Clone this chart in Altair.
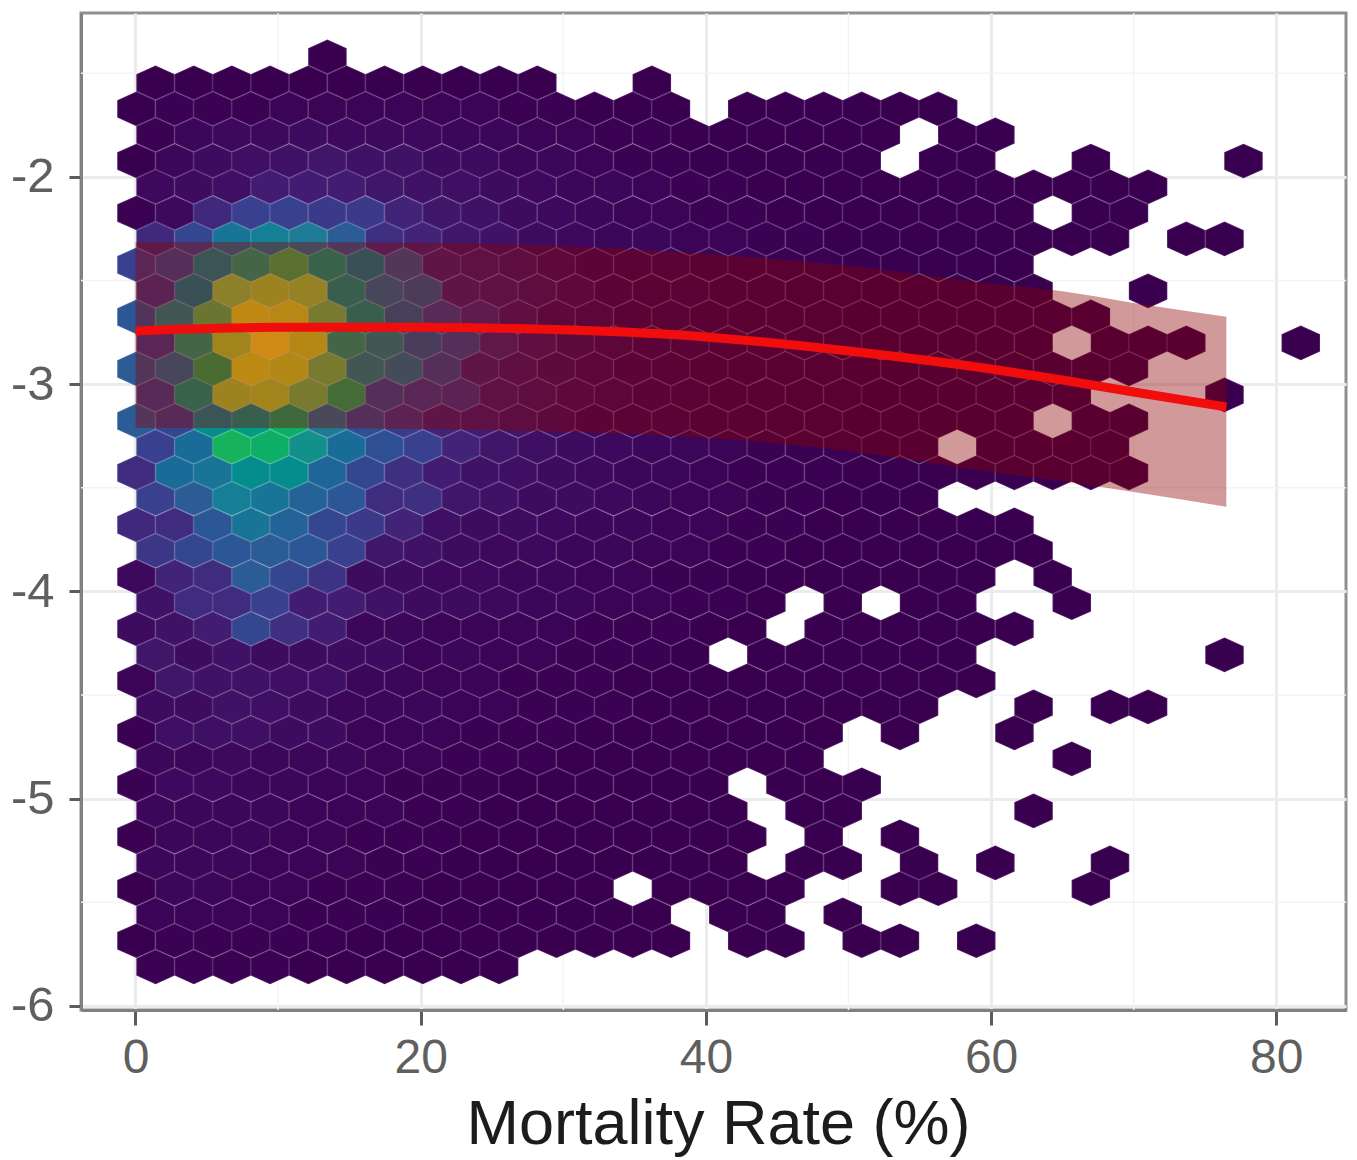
import altair as alt
import pandas as pd

N = None
x_even = [0.07,2.75,5.42,8.10,10.78,13.46,16.13,18.81,21.49,24.16,26.84,29.52,32.19,34.87,37.55,40.23,42.90,45.58,48.26,50.93,53.61,56.29,58.96,61.64,64.32,67.00,69.67,72.35,75.03,77.70,80.38]
x_odd = [1.41,4.09,6.76,9.44,12.12,14.80,17.47,20.15,22.83,25.50,28.18,30.86,33.53,36.21,38.89,41.57,44.24,46.92,49.60,52.27,54.95,57.63,60.30,62.98,65.66,68.34,71.01,73.69,76.37,79.04,81.72]
y_rows = [-1.421,-1.546,-1.672,-1.797,-1.923,-2.048,-2.174,-2.299,-2.424,-2.550,-2.675,-2.801,-2.926,-3.052,-3.177,-3.303,-3.428,-3.553,-3.679,-3.804,-3.930,-4.055,-4.181,-4.306,-4.432,-4.557,-4.683,-4.808,-4.933,-5.059,-5.184,-5.310,-5.435,-5.561,-5.686,-5.812]

r00 = [N,N,N,N,N,0]
r01 = [0,0,0,0,0,0,0,0,0,0,0,N,N,0]
r02 = [0,1,1,1,2,2,2,2,2,2,1,1,0,0,0,N,0,0,0,0,0,0]
r03 = [1,3,4,4,5,4,4,4,3,3,2,2,1,1,0,0,0,0,0,0,N,0,0]
r04 = [0,3,5,6,7,8,7,7,5,5,3,3,2,1,1,0,0,0,0,0,N,0,0,N,N,0,N,N,N,0]
r05 = [4,5,6,10,10,10,8,7,6,5,4,3,3,2,1,1,0,0,0,0,0,0,0,0,0,0,0]
r06 = [1,4,13,20,20,18,18,12,8,7,5,4,3,2,2,1,1,0,0,0,0,0,0,0,N,0,0]
r07 = [13,22,38,42,40,30,15,12,8,7,5,4,3,3,2,2,1,1,0,0,0,0,0,0,0,0,N,0,0]
r08 = [20,25,48,60,72,58,45,30,12,10,8,6,4,3,3,2,2,1,1,0,0,0,0,0]
r09 = [18,45,83,87,85,55,38,32,12,10,8,6,4,3,3,2,2,1,1,0,0,0,0,0,N,N,0]
r10 = [28,50,75,96,94,78,55,35,22,15,9,6,5,3,3,2,2,1,1,0,0,0,0,0,0,0]
r11 = [20,60,88,100,93,60,50,33,25,13,9,7,5,4,3,2,2,1,1,0,0,0,0,0,N,0,0,0,N,N,0]
r12 = [30,38,70,95,92,78,50,42,25,12,9,7,5,4,3,2,2,1,1,0,0,0,0,0,0,0,0]
r13 = [22,58,87,88,78,68,25,20,18,10,8,6,5,4,3,2,2,1,1,0,0,0,0,0,0,N,N,N,0]
r14 = [30,22,48,55,65,40,25,18,12,10,8,6,4,3,3,2,2,1,1,0,0,0,0,0,N,0,0]
r15 = [20,35,68,65,50,35,25,20,12,8,6,5,4,3,3,2,1,1,1,0,0,N,0,0,0,0]
r16 = [14,35,38,48,48,33,22,15,10,7,6,5,4,3,3,2,1,1,1,0,0,0,0,0,0,0,0]
r17 = [20,30,42,38,32,28,14,15,8,7,5,5,4,3,2,2,1,1,0,0,0]
r18 = [13,14,28,38,32,22,18,12,6,5,5,4,3,3,2,2,1,1,0,0,0,0,0,0]
r19 = [17,22,28,30,28,20,8,7,5,4,4,3,3,2,2,1,1,0,0,0,0,0,0,0]
r20 = [4,12,14,30,22,16,5,5,4,4,3,3,2,2,1,1,0,0,0,0,0,0,0,N,0]
r21 = [7,14,14,20,10,10,7,5,5,4,3,3,2,2,1,1,0,N,0,N,0,0,N,N,0]
r22 = [5,7,10,22,15,10,3,3,2,2,2,2,1,1,1,0,0,N,0,0,0,0,0,0]
r23 = [8,5,7,5,5,5,5,2,3,2,2,1,1,1,0,N,0,0,0,0,0,0,N,N,N,N,N,N,0]
r24 = [2,8,7,7,6,6,3,3,2,2,1,1,1,0,0,0,0,0,0,0,0,0,0]
r25 = [5,5,7,6,5,3,3,3,2,2,1,1,1,0,0,0,0,0,0,0,0,N,N,0,N,0,0]
r26 = [1,6,6,6,5,5,2,2,2,1,1,1,0,0,0,0,0,0,0,N,0,N,N,0]
r27 = [3,3,4,3,3,3,2,2,1,1,1,0,0,0,0,0,0,0,N,N,N,N,N,N,0]
r28 = [1,4,4,3,3,2,2,1,1,1,0,0,0,0,0,0,N,0,0,0]
r29 = [3,3,3,3,2,2,2,1,1,0,0,0,0,0,0,0,N,0,0,N,N,N,N,0]
r30 = [1,3,3,3,2,2,1,1,1,0,0,0,0,0,0,0,0,N,0,N,0]
r31 = [3,3,3,2,2,2,1,1,0,0,0,0,0,0,0,0,N,0,0,N,0,N,0,N,N,0]
r32 = [0,3,3,2,2,1,1,1,0,0,0,0,0,N,0,0,0,0,N,N,0,0,N,N,N,0]
r33 = [2,2,2,2,1,1,1,0,0,0,0,0,0,0,N,0,0,N,0]
r34 = [0,1,1,1,1,1,0,0,0,0,0,0,0,0,0,N,0,0,N,0,0,N,0]
r35 = [1,1,1,1,0,0,0,0,0,0]
rows = [r00,r01,r02,r03,r04,r05,r06,r07,r08,r09,r10,r11,r12,r13,r14,r15,r16,r17,
        r18,r19,r20,r21,r22,r23,r24,r25,r26,r27,r28,r29,r30,r31,r32,r33,r34,r35]

fit_x = [0,10,20,30,40,50,60,65,70,76.5]
fit_y = [-2.743,-2.726,-2.726,-2.738,-2.772,-2.840,-2.927,-2.980,-3.038,-3.110]
fit_upper = [-2.314,-2.314,-2.318,-2.333,-2.372,-2.429,-2.516,-2.552,-2.608,-2.675]
fit_lower = [-3.211,-3.211,-3.216,-3.230,-3.259,-3.322,-3.423,-3.468,-3.520,-3.592]

x_major = [0,20,40,60,80]
y_major = [-2,-3,-4,-5,-6]
x_minor = [10,30,50,70]
y_minor = [-1.5,-2.5,-3.5,-4.5,-5.5]

level_stops = [0,5,10,20,30,40,50,60,70,80,90,100]
level_colors = ["#3a0050","#3d0b60","#421c72","#39408f","#2c5c96","#1f7a95","#12918a",
                "#14a875","#1fb554","#7ad151","#bddf26","#fde725"]

cells = []
for r, row in enumerate(rows):
    xs = x_even if r % 2 == 0 else x_odd
    for k, v in enumerate(row):
        if v is not None:
            cells.append({"x": xs[k], "y": y_rows[r], "level": v})
hex_df = pd.DataFrame(cells)
fit_df = pd.DataFrame({"x": fit_x, "y": fit_y, "lo": fit_lower, "hi": fit_upper})

xs = alt.Scale(domain=[-3.82, 84.89], nice=False, zero=False)
ys = alt.Scale(domain=[-6.02, -1.209], nice=False, zero=False)

x_axis = alt.Axis(
    values=x_major, title="Mortality Rate (%)", grid=True, gridColor="#ebebeb", gridWidth=3,
    domainColor="#808080", domainWidth=3, tickColor="#5c5c5c", tickWidth=3, tickSize=15,
    labelFont="Liberation Sans", labelFontSize=48, labelColor="#5f5f5f", labelPadding=9,
    titleFont="Liberation Sans", titleFontSize=63, titleFontWeight="normal", titleColor="#1c1c1c",
    titleX=637, titleY=133, titleBaseline="alphabetic", labelFlush=False)
y_axis = alt.Axis(
    values=y_major, title=None, grid=True, gridColor="#ebebeb", gridWidth=3,
    domainColor="#808080", domainWidth=3, tickColor="#5c5c5c", tickWidth=3, tickSize=12,
    labelFont="Liberation Sans", labelFontSize=49, labelColor="#5f5f5f", labelPadding=15,
    labelExpr="'' + datum.value")

HEX = "M0,-1 L1.11,-0.5 L1.11,0.5 L0,1 L-1.11,0.5 L-1.11,-0.5 Z"

hexes = alt.Chart(hex_df).mark_point(
    shape=HEX, filled=True, size=1201, opacity=1, stroke="#ffffff", strokeWidth=1.8, strokeOpacity=0.11
).encode(
    x=alt.X("x:Q", scale=xs, axis=x_axis),
    y=alt.Y("y:Q", scale=ys, axis=y_axis),
    color=alt.Color("level:Q", legend=None, scale=alt.Scale(domain=level_stops, range=level_colors)),
)

minor_v = alt.Chart(pd.DataFrame({"x": x_minor})).mark_rule(color="#f3f3f3", strokeWidth=1.5).encode(
    x=alt.X("x:Q", scale=xs, axis=x_axis))
minor_h = alt.Chart(pd.DataFrame({"y": y_minor})).mark_rule(color="#f3f3f3", strokeWidth=1.5).encode(
    y=alt.Y("y:Q", scale=ys, axis=y_axis))

band = alt.Chart(fit_df).mark_area(color="#8b0000", opacity=0.4, interpolate="monotone").encode(
    x=alt.X("x:Q", scale=xs), y=alt.Y("lo:Q", scale=ys), y2="hi:Q")
line = alt.Chart(fit_df).mark_line(color="#f20d0d", strokeWidth=9, interpolate="monotone").encode(
    x=alt.X("x:Q", scale=xs), y=alt.Y("y:Q", scale=ys))

chart = alt.layer(minor_v, minor_h, hexes, band, line).properties(
    width=1265, height=997,
    autosize=alt.AutoSizeParams(type="none"),
    padding={"left": 73, "top": 5, "right": 3, "bottom": 148},
    background="white",
).configure_view(stroke="#909090", strokeWidth=3)

chart.save("out.html", embed_options={"renderer": "svg", "actions": False})
